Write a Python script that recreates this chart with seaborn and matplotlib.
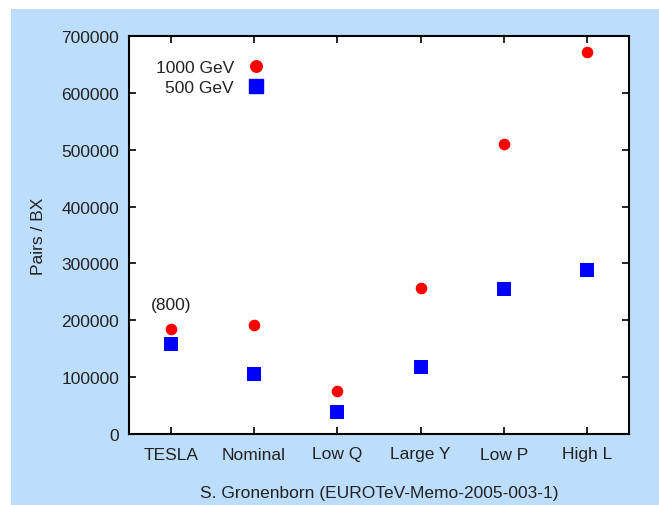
import matplotlib
matplotlib.use("Agg")
import matplotlib.pyplot as plt
from matplotlib.patches import Rectangle
from matplotlib.lines import Line2D
import seaborn as sns
import pandas as pd

categories = ["TESLA", "Nominal", "Low Q", "Large Y", "Low P", "High L"]
pairs_1000 = [185000, 191000, 76000, 256000, 510000, 671000]
pairs_500 = [158000, 105000, 39000, 118000, 255000, 288000]
series_names = ["1000 GeV", "500 GeV"]
yticks = [0, 100000, 200000, 300000, 400000, 500000, 600000, 700000]

df1 = pd.DataFrame({"cat": categories, "pairs": pairs_1000})
df2 = pd.DataFrame({"cat": categories, "pairs": pairs_500})

sns.set_style("ticks")
plt.rcParams["font.family"] = ["Liberation Sans", "DejaVu Sans"]
txt = "#222222"
fs = 12.5

fig = plt.figure(figsize=(6.59, 5.06), dpi=100, facecolor="white")
fig.patches.append(Rectangle((11 / 659, 0), 1 - 11 / 659, 1 - 10 / 506,
                             transform=fig.transFigure, facecolor="#BCDDFC",
                             edgecolor="none", zorder=-10))
ax = fig.add_axes([129 / 659, 1 - 435 / 506, 500 / 659, 398 / 506])
ax.set_facecolor("white")

sns.scatterplot(data=df1, x="cat", y="pairs", color="#FF0000", marker="o",
                s=70, linewidth=0, ax=ax, legend=False)
sns.scatterplot(data=df2, x="cat", y="pairs", color="#0000FF", marker="s",
                s=90, linewidth=0, ax=ax, legend=False)

ax.set_xlim(-0.5, len(categories) - 0.5)
ax.set_ylim(0, 700000)
ax.set_yticks(yticks)
ax.set_yticklabels([str(v) for v in yticks])
ax.set_xticks(range(len(categories)))
ax.set_xticklabels(categories)

for s in ax.spines.values():
    s.set_visible(True)
    s.set_linewidth(1.5)
    s.set_color("black")
ax.tick_params(direction="in", length=5, width=1.2, top=True, right=True,
               labelsize=fs, colors="black", labelcolor=txt)
ax.tick_params(axis="y", pad=7)
ax.tick_params(axis="x", pad=9)

ax.set_ylabel("Pairs / BX", fontsize=fs, color=txt, labelpad=11)
ax.set_xlabel("S. Gronenborn (EUROTeV-Memo-2005-003-1)", fontsize=fs, color=txt, labelpad=17)

handles = [Line2D([], [], marker="o", color="#FF0000", linestyle="none", markersize=8.3),
           Line2D([], [], marker="s", color="#0000FF", linestyle="none", markersize=9.5)]
leg = ax.legend(handles, series_names, loc="upper left", bbox_to_anchor=(0.029, 0.97),
                markerfirst=False, frameon=False, fontsize=fs, handletextpad=0.8,
                labelspacing=0.25, handlelength=1.0, borderpad=0.2)
for t in leg.get_texts():
    t.set_color(txt)

ax.annotate("(800)", (0, pairs_1000[0]), xytext=(0, 12), textcoords="offset points",
            ha="center", va="bottom", fontsize=fs, color=txt)

fig.savefig("out.png", dpi=100, facecolor="white")
